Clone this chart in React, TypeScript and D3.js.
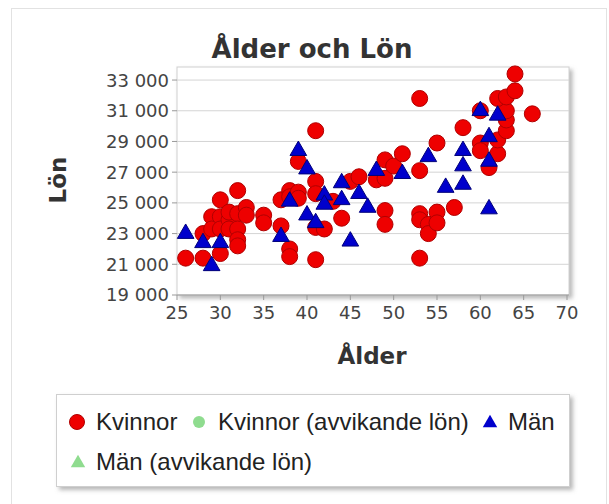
import React from "react";
import * as d3 from "d3";

// ålder, lön
const kvinnor: [number, number][] = [
  [26, 21400], [28, 21400], [28, 23000], [29, 24100], [29, 23300], [30, 25200], [30, 24100],
  [30, 23300], [30, 21700], [31, 23900], [31, 23300], [31, 24400], [32, 25800], [32, 24300],
  [32, 23300], [32, 22600], [32, 22200], [33, 24700], [33, 24200], [35, 24200], [35, 23700],
  [37, 25200], [37, 23500], [38, 25800], [38, 25400], [38, 22000], [38, 21500], [39, 27700],
  [39, 25700], [39, 25300], [41, 29700], [41, 26400], [41, 25600], [41, 23400], [41, 21300],
  [42, 23300], [43, 25100], [44, 24000], [45, 26400], [46, 26700], [48, 26500], [49, 26600],
  [49, 27800], [50, 27400], [51, 28200], [49, 24500], [49, 23600], [53, 31800], [53, 27100],
  [53, 24300], [53, 23900], [53, 21400], [54, 23600], [54, 23000], [55, 24400], [55, 23700],
  [55, 28900], [57, 24700], [58, 29900], [60, 28900], [60, 28400], [60, 31000], [61, 27300],
  [62, 28200], [62, 29100], [63, 29700], [63, 30400], [63, 31000], [62, 31800], [63, 31900],
  [64, 32300], [64, 33400], [66, 30800],
];
const kvinnorAvvikande: [number, number][] = [];
const man: [number, number][] = [
  [26, 23000], [28, 22400], [29, 20900], [30, 22400], [37, 22800], [38, 25100], [39, 28400],
  [40, 27200], [40, 24200], [41, 23700], [42, 25500], [42, 24900], [44, 26300], [44, 25200],
  [45, 22500], [46, 25600], [47, 24700], [48, 27100], [51, 26900], [54, 28000], [56, 26000],
  [58, 28400], [58, 27400], [58, 26200], [60, 31000], [61, 29300], [61, 27700], [61, 24600],
  [62, 30700],
];
const manAvvikande: [number, number][] = [];

const xTicks = [25, 30, 35, 40, 45, 50, 55, 60, 65, 70];
const yTicks = [19000, 21000, 23000, 25000, 27000, 29000, 31000, 33000];

const W = 609;
const H = 504;
const fmt = d3.formatLocale({ decimal: ",", thousands: " ", grouping: [3], currency: ["", " kr"] }).format(",");

const x = d3.scaleLinear().domain([25, 70]).range([177, 567]);
const y = d3.scaleLinear().domain([19000, 33850]).range([295, 67]);

const tri = d3.symbol().type(d3.symbolTriangle).size(120)()!;
const triSmall = d3.symbol().type(d3.symbolTriangle).size(90)()!;

const App: React.FC = () => {
  const [x0, x1] = x.range();
  const [y0, y1] = y.range();
  const tickFont = "'DejaVu Sans', Verdana, sans-serif";
  const legendFont = "'Liberation Sans', Arial, sans-serif";

  return (
    <div style={{ position: "absolute", left: 0, top: 0 }}>
      <svg width={W} height={H} style={{ display: "block", background: "#fff" }}>
        <defs>
          <filter id="shadow" x="-10%" y="-10%" width="120%" height="130%">
            <feDropShadow dx="3" dy="3" stdDeviation="2" floodColor="#888" floodOpacity="0.6" />
          </filter>
        </defs>
        {/* yttre ram */}
        <rect x={11.5} y={8.5} width={595} height={510} fill="#fff" stroke="#e2e2e2" />

        <text x={312} y={58} textAnchor="middle" fontFamily={tickFont} fontWeight="bold"
          fontSize={26} fill="#333">Ålder och Lön</text>

        {/* plottyta */}
        <rect x={x0} y={y1} width={x1 - x0 + 2} height={y0 - y1} fill="#fff" stroke="#d0d0d0"
          filter="url(#shadow)" />
        {yTicks.slice(1).map((t) => (
          <line key={t} x1={x0} x2={x1 + 2} y1={y(t)} y2={y(t)} stroke="#d4d4d4" strokeWidth={1} />
        ))}
        {yTicks.map((t) => (
          <g key={t} transform={`translate(0,${y(t)})`}>
            <line x1={x0 - 5} x2={x0} stroke="#999" />
            <text x={x0 - 8} dy="0.36em" textAnchor="end" fontFamily={tickFont} fontSize={18}
              fill="#444">{fmt(t)}</text>
          </g>
        ))}
        <line x1={x0} x2={x1 + 2} y1={y0} y2={y0} stroke="#999" />
        {xTicks.map((t) => (
          <g key={t} transform={`translate(${x(t)},${y0})`}>
            <line y1={0} y2={5} stroke="#999" />
            <text y={24} textAnchor="middle" fontFamily={tickFont} fontSize={18} fill="#444">{t}</text>
          </g>
        ))}

        <text transform={`translate(66,180) rotate(-90)`} textAnchor="middle" fontFamily={tickFont}
          fontWeight="bold" fontSize={23} fill="#333">Lön</text>
        <text x={372} y={364} textAnchor="middle" fontFamily={tickFont} fontWeight="bold"
          fontSize={23} fill="#333">Ålder</text>

        {/* punkter */}
        {kvinnor.map(([a, l], i) => (
          <circle key={"k" + i} cx={x(a)} cy={y(l)} r={8} fill="#ee0000" stroke="#b00000" strokeWidth={1} />
        ))}
        {kvinnorAvvikande.map(([a, l], i) => (
          <circle key={"ka" + i} cx={x(a)} cy={y(l)} r={8} fill="#8fdc8f" />
        ))}
        {man.map(([a, l], i) => (
          <path key={"m" + i} d={tri} transform={`translate(${x(a)},${y(l)})`} fill="#0000cc"
            stroke="#00007a" strokeWidth={1} />
        ))}
        {manAvvikande.map(([a, l], i) => (
          <path key={"ma" + i} d={tri} transform={`translate(${x(a)},${y(l)})`} fill="#8fdc8f" />
        ))}

        {/* legend */}
        <rect x={56.5} y={394.5} width={513} height={92} fill="#fff" stroke="#cfcfcf"
          filter="url(#shadow)" />
        <g fontFamily={legendFont} fontSize={24} fill="#222">
          <circle cx={77} cy={422} r={7.5} fill="#ee0000" stroke="#b00000" />
          <text x={96} y={422} dy="0.35em">Kvinnor</text>
          <circle cx={199} cy={422} r={6} fill="#8fdc8f" />
          <text x={218} y={422} dy="0.35em">Kvinnor (avvikande lön)</text>
          <path d={triSmall} transform="translate(490,423)" fill="#0000cc" />
          <text x={508} y={422} dy="0.35em">Män</text>
          <path d={triSmall} transform="translate(78,463)" fill="#8fdc8f" />
          <text x={96} y={462} dy="0.35em">Män (avvikande lön)</text>
        </g>
      </svg>
    </div>
  );
};

export default App;
